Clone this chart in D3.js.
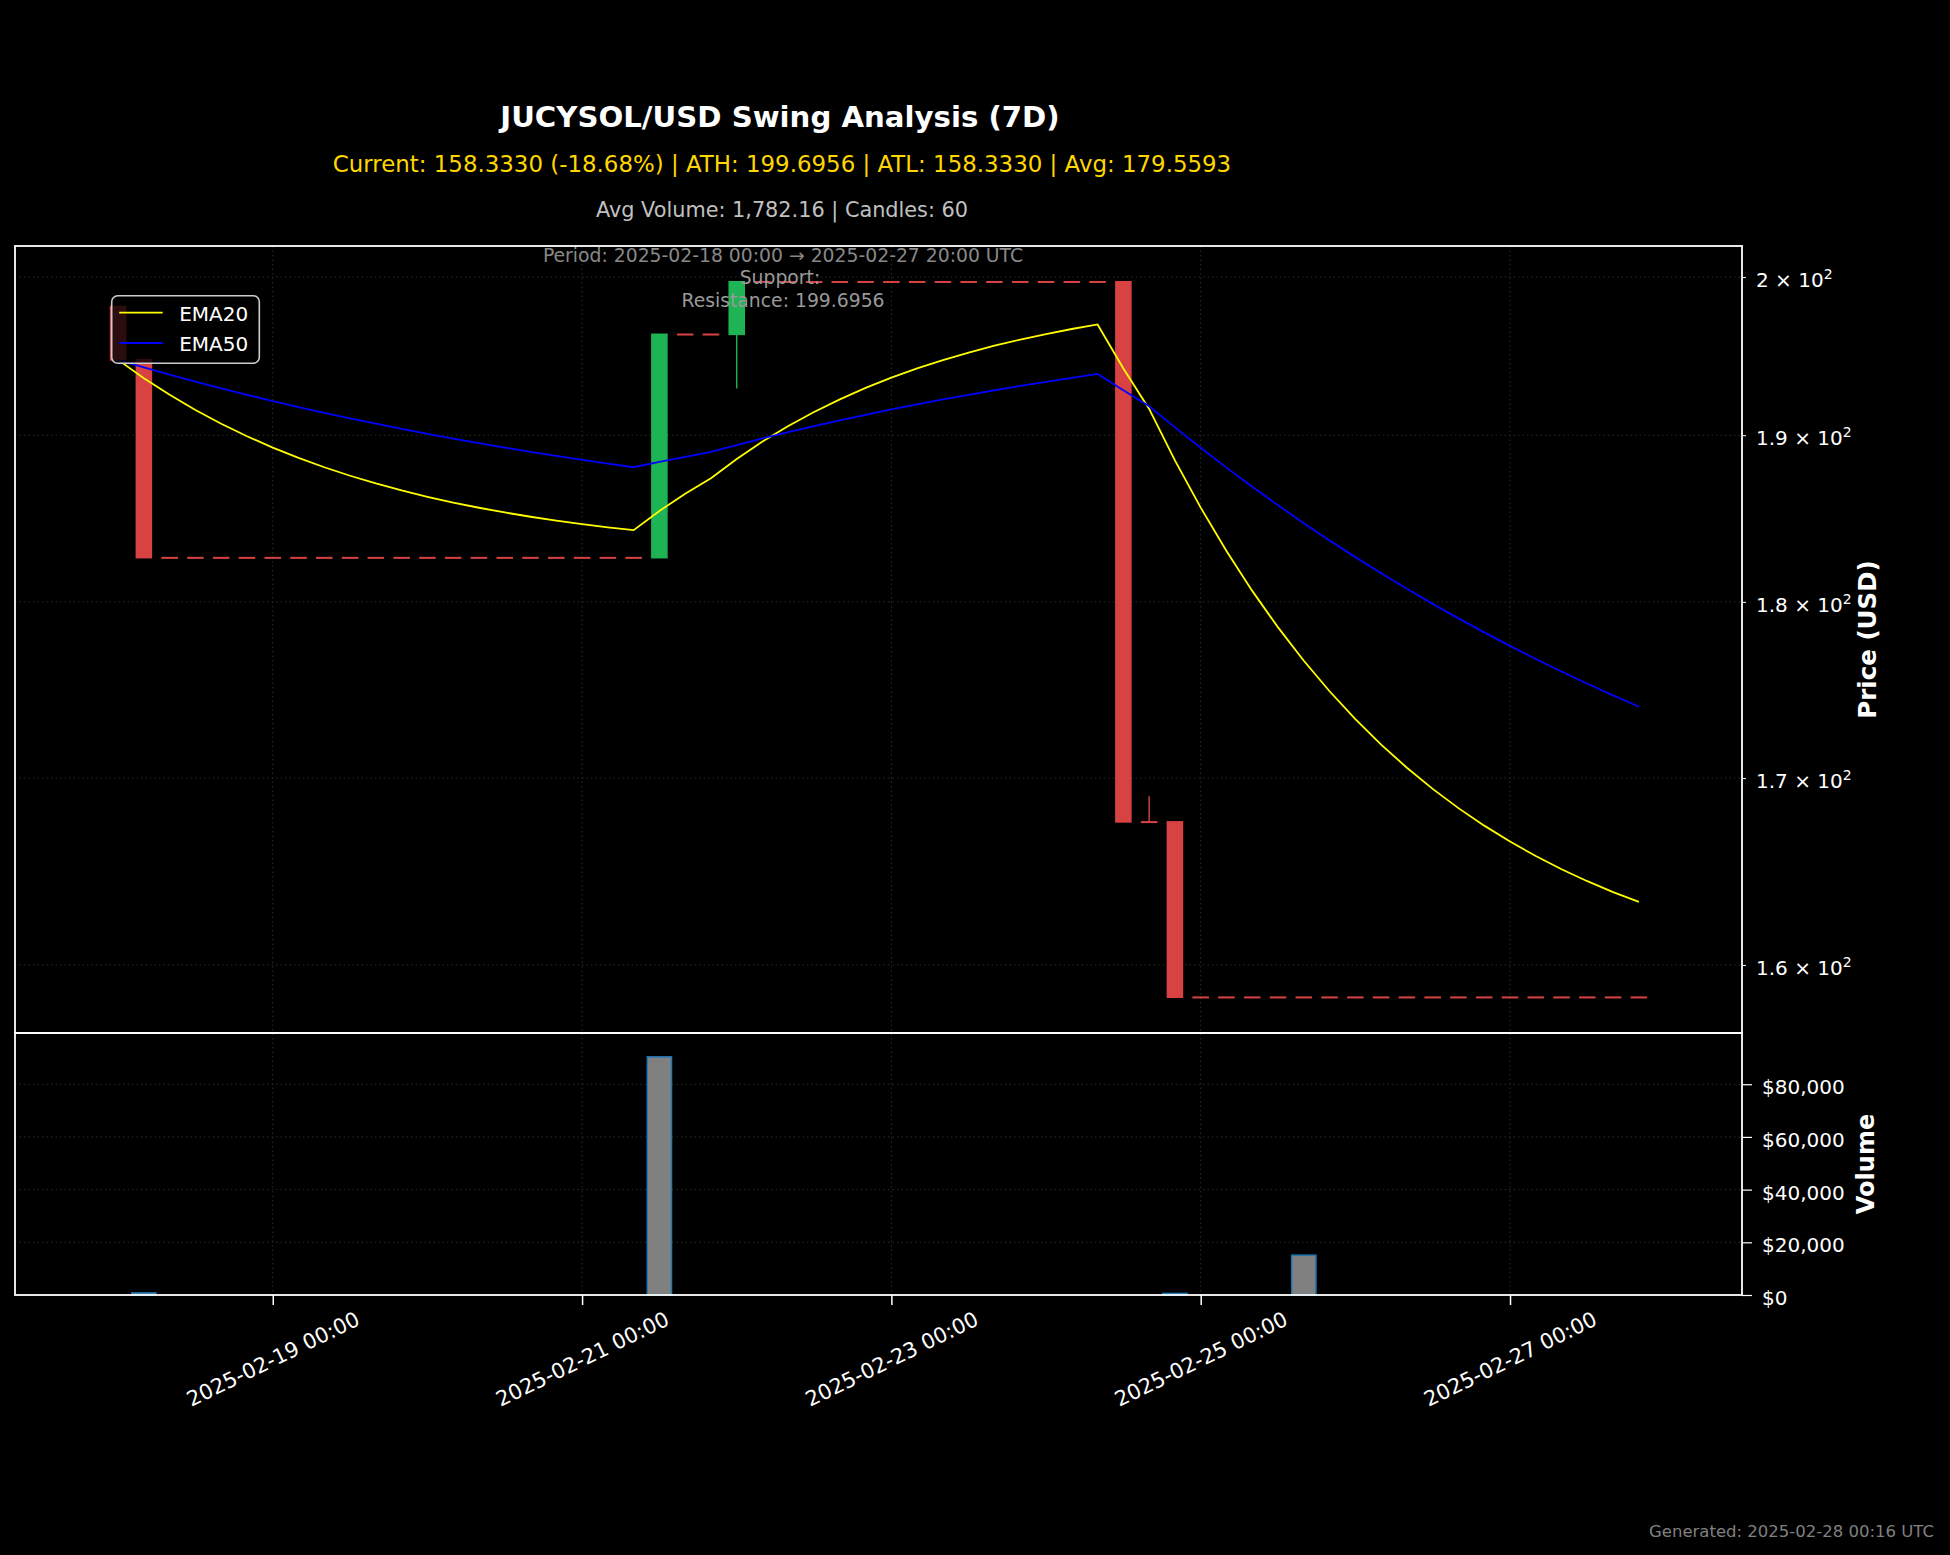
<!DOCTYPE html>
<html>
<head>
<meta charset="utf-8">
<script src="https://cdn.jsdelivr.net/npm/d3@7"></script>
<style>
  body { margin: 0; background: #000; }
  svg { display: block; }
  text { font-family: "DejaVu Sans", sans-serif; }
</style>
</head>
<body>
<div id="chart"></div>
<script>
// ---- data (4h candles) ----
const startTime = Date.UTC(2025, 1, 18, 0, 0);
const stepHours = 4;

const opens = [
  198.10, 194.70, 182.60, 182.60, 182.60, 182.60, 182.60, 182.60, 182.60, 182.60,
  182.60, 182.60, 182.60, 182.60, 182.60, 182.60, 182.60, 182.60, 182.60, 182.60,
  182.60, 182.60, 196.32, 196.32, 196.32, 199.6956, 199.6956, 199.6956, 199.6956, 199.6956,
  199.6956, 199.6956, 199.6956, 199.6956, 199.6956, 199.6956, 199.6956, 199.6956, 199.6956, 199.6956,
  167.60, 167.60, 158.333, 158.333, 158.333, 158.333, 158.333, 158.333, 158.333, 158.333,
  158.333, 158.333, 158.333, 158.333, 158.333, 158.333, 158.333, 158.333, 158.333, 158.333
];
const highs = [
  198.10, 194.70, 182.60, 182.60, 182.60, 182.60, 182.60, 182.60, 182.60, 182.60,
  182.60, 182.60, 182.60, 182.60, 182.60, 182.60, 182.60, 182.60, 182.60, 182.60,
  182.60, 196.32, 196.32, 196.32, 199.6956, 199.6956, 199.6956, 199.6956, 199.6956, 199.6956,
  199.6956, 199.6956, 199.6956, 199.6956, 199.6956, 199.6956, 199.6956, 199.6956, 199.6956, 199.6956,
  169.00, 167.60, 158.333, 158.333, 158.333, 158.333, 158.333, 158.333, 158.333, 158.333,
  158.333, 158.333, 158.333, 158.333, 158.333, 158.333, 158.333, 158.333, 158.333, 158.333
];
const lows = [
  194.70, 182.60, 182.60, 182.60, 182.60, 182.60, 182.60, 182.60, 182.60, 182.60,
  182.60, 182.60, 182.60, 182.60, 182.60, 182.60, 182.60, 182.60, 182.60, 182.60,
  182.60, 182.60, 196.32, 196.32, 192.90, 199.6956, 199.6956, 199.6956, 199.6956, 199.6956,
  199.6956, 199.6956, 199.6956, 199.6956, 199.6956, 199.6956, 199.6956, 199.6956, 199.6956, 167.60,
  167.60, 158.333, 158.333, 158.333, 158.333, 158.333, 158.333, 158.333, 158.333, 158.333,
  158.333, 158.333, 158.333, 158.333, 158.333, 158.333, 158.333, 158.333, 158.333, 158.333
];
const closes = [
  194.70, 182.60, 182.60, 182.60, 182.60, 182.60, 182.60, 182.60, 182.60, 182.60,
  182.60, 182.60, 182.60, 182.60, 182.60, 182.60, 182.60, 182.60, 182.60, 182.60,
  182.60, 196.32, 196.32, 196.32, 199.6956, 199.6956, 199.6956, 199.6956, 199.6956, 199.6956,
  199.6956, 199.6956, 199.6956, 199.6956, 199.6956, 199.6956, 199.6956, 199.6956, 199.6956, 167.60,
  167.60, 158.333, 158.333, 158.333, 158.333, 158.333, 158.333, 158.333, 158.333, 158.333,
  158.333, 158.333, 158.333, 158.333, 158.333, 158.333, 158.333, 158.333, 158.333, 158.333
];
const volumes = [
  0, 800, 0, 0, 0, 0, 0, 0, 0, 0,
  0, 0, 0, 0, 0, 0, 0, 0, 0, 0,
  0, 90400, 0, 0, 0, 0, 0, 0, 0, 0,
  0, 0, 0, 0, 0, 0, 0, 0, 0, 0,
  0, 610, 0, 0, 0, 0, 15120, 0, 0, 0,
  0, 0, 0, 0, 0, 0, 0, 0, 0, 0
];

const priceTicks = [160, 170, 180, 190, 200];
const priceTickMantissa = ["1.6", "1.7", "1.8", "1.9", "2"];
const volumeTicks = [0, 20000, 40000, 60000, 80000];
const xTickDates = ["2025-02-19", "2025-02-21", "2025-02-23", "2025-02-25", "2025-02-27"];

const titleText = "JUCYSOL/USD Swing Analysis (7D)";
const subtitleText = "Current: 158.3330 (-18.68%) | ATH: 199.6956 | ATL: 158.3330 | Avg: 179.5593";
const volInfoText = "Avg Volume: 1,782.16 | Candles: 60";
const periodText = "Period: 2025-02-18 00:00 \u2192 2025-02-27 20:00 UTC";
const supportText = "Support:";
const resistanceText = "Resistance: 199.6956";
const generatedText = "Generated: 2025-02-28 00:16 UTC";

// ---- layout ----
const width = 1950, height = 1555;
const price_box = {left: 15, right: 1742, top: 246, bottom: 1033};
const vol_box = {left: 15, right: 1742, top: 1033, bottom: 1295};
const red = "#d84242", green = "#1eb455";

function ema(values, span) {
  const a = 2 / (span + 1);
  let out = [];
  values.forEach(function(v, i) {
    out.push(i == 0 ? v : a * v + (1 - a) * out[i - 1]);
  });
  return out;
}

const times = closes.map(function(d, i) { return new Date(startTime + i * stepHours * 3600e3); });
const candles = times.map(function(t, i) {
  return {t: t, o: opens[i], h: highs[i], l: lows[i], c: closes[i], v: volumes[i]};
});
const ema20 = ema(closes, 20);
const ema50 = ema(closes, 50);

const svg = d3.select("#chart").append("svg")
  .attr("width", width).attr("height", height)
  .style("background", "#000");

// x scale: 16h of padding on each side
const pad = 16 * 3600e3;
const xScale = d3.scaleUtc()
  .domain([new Date(+times[0] - pad), new Date(+times[times.length - 1] + pad)])
  .range([price_box.left, price_box.right]);

const lo = d3.min(lows), hi = d3.max(highs);
const lmargin = Math.log(hi / lo) * 0.05;
const yScale = d3.scaleLog()
  .domain([lo * Math.exp(-lmargin), hi * Math.exp(lmargin)])
  .range([price_box.bottom, price_box.top]);

const vScale = d3.scaleLinear()
  .domain([0, d3.max(volumes) * 1.1])
  .range([vol_box.bottom, vol_box.top]);

const stepPx = xScale(new Date(startTime + stepHours * 3600e3)) - xScale(new Date(startTime));
const bodyW = stepPx * 0.58;
const volW = stepPx * 0.94;
const tickDates = xTickDates.map(function(s) { return new Date(s + "T00:00:00Z"); });

// ---- gridlines ----
const grid = svg.append("g").attr("stroke", "#2e2e1c").attr("stroke-width", 1).attr("stroke-dasharray", "1.5,3");
tickDates.forEach(function(d) {
  grid.append("line").attr("x1", xScale(d)).attr("x2", xScale(d))
    .attr("y1", price_box.top).attr("y2", vol_box.bottom);
});
priceTicks.forEach(function(p) {
  grid.append("line").attr("x1", price_box.left).attr("x2", price_box.right)
    .attr("y1", yScale(p)).attr("y2", yScale(p));
});
volumeTicks.slice(1).forEach(function(v) {
  grid.append("line").attr("x1", vol_box.left).attr("x2", vol_box.right)
    .attr("y1", vScale(v)).attr("y2", vScale(v));
});

// ---- candles ----
const cg = svg.append("g");
cg.selectAll("line.wick").data(candles).enter().append("line")
  .attr("class", "wick")
  .attr("x1", function(d) { return xScale(d.t); })
  .attr("x2", function(d) { return xScale(d.t); })
  .attr("y1", function(d) { return yScale(d.h); })
  .attr("y2", function(d) { return yScale(d.l); })
  .attr("stroke", function(d) { return d.c > d.o ? green : red; })
  .attr("stroke-width", 1.4);

// flat candles (open == close) still get a thin body line
cg.selectAll("rect.body").data(candles).enter().append("rect")
  .attr("class", "body")
  .attr("x", function(d) { return xScale(d.t) - bodyW / 2; })
  .attr("width", bodyW)
  .attr("y", function(d) { return yScale(Math.max(d.o, d.c)); })
  .attr("height", function(d) { return Math.max(0.4, Math.abs(yScale(d.o) - yScale(d.c))); })
  .attr("fill", function(d) { return d.c > d.o ? green : red; })
  .attr("stroke", function(d) { return d.c > d.o ? green : red; })
  .attr("stroke-width", 1.6);

// ---- EMA lines ----
const line = d3.line()
  .x(function(d, i) { return xScale(times[i]); })
  .y(function(d) { return yScale(d); });

svg.append("path").datum(ema20).attr("d", line)
  .attr("fill", "none").attr("stroke", "#ffff00").attr("stroke-width", 1.8);
svg.append("path").datum(ema50).attr("d", line)
  .attr("fill", "none").attr("stroke", "#0000ff").attr("stroke-width", 1.8);

// ---- volume bars ----
svg.append("g").selectAll("rect").data(candles).enter().append("rect")
  .attr("x", function(d) { return xScale(d.t) - volW / 2; })
  .attr("width", volW)
  .attr("y", function(d) { return vScale(d.v); })
  .attr("height", function(d) { return vol_box.bottom - vScale(d.v); })
  .attr("fill", "#808080")
  .attr("stroke", function(d) { return d.v > 0 ? "#1f77b4" : "none"; })
  .attr("stroke-width", 1.5);

// ---- legend ----
const lg = svg.append("g").attr("transform", "translate(111.7,295.7)");
lg.append("rect").attr("width", 147.6).attr("height", 67.6).attr("rx", 6).attr("ry", 6)
  .attr("fill", "rgba(0,0,0,0.8)").attr("stroke", "#cccccc").attr("stroke-width", 1.6);
[["EMA20", "#ffff00"], ["EMA50", "#0000ff"]].forEach(function(e, i) {
  lg.append("line").attr("x1", 7.5).attr("x2", 51).attr("y1", 17 + i * 30.3).attr("y2", 17 + i * 30.3)
    .attr("stroke", e[1]).attr("stroke-width", 1.8);
  lg.append("text").attr("x", 67.5).attr("y", 25 + i * 30.3)
    .attr("fill", "#fff").style("font-size", "20px").text(e[0]);
});

// ---- spines ----
[price_box, vol_box].forEach(function(b) {
  svg.append("rect").attr("x", b.left).attr("y", b.top)
    .attr("width", b.right - b.left).attr("height", b.bottom - b.top)
    .attr("fill", "none").attr("stroke", "#fff").attr("stroke-width", 1.8);
});

// ---- axes ----
const yAxis = svg.append("g").attr("transform", "translate(" + price_box.right + ",0)")
  .call(d3.axisRight(yScale).tickValues(priceTicks).tickSize(4).tickPadding(10).tickFormat(""));
yAxis.select(".domain").remove();
yAxis.selectAll("line").attr("stroke", "#fff").attr("stroke-width", 1);
yAxis.selectAll("text").each(function(d, i) {
  const t = d3.select(this).attr("fill", "#fff").attr("dy", null).attr("y", 9.5)
    .style("font-size", "20px").style("font-family", "'DejaVu Sans'");
  t.append("tspan").text(priceTickMantissa[i] + " \u00d7 10");
  t.append("tspan").attr("dy", -8).style("font-size", "14px").text("2");
});

const vAxis = svg.append("g").attr("transform", "translate(" + vol_box.right + ",0)")
  .call(d3.axisRight(vScale).tickValues(volumeTicks).tickSize(10).tickPadding(10).tickFormat(d3.format("$,")));
vAxis.select(".domain").remove();
vAxis.selectAll("line").attr("stroke", "#fff").attr("stroke-width", 1.2);
vAxis.selectAll("text").attr("fill", "#fff").attr("dy", null).attr("y", 9.5)
  .style("font-size", "20px").style("font-family", "'DejaVu Sans'");

const xAxis = svg.append("g").attr("transform", "translate(0," + vol_box.bottom + ")")
  .call(d3.axisBottom(xScale).tickValues(tickDates).tickSize(10).tickFormat(d3.utcFormat("%Y-%m-%d %H:%M")));
xAxis.select(".domain").remove();
xAxis.selectAll("line").attr("stroke", "#fff").attr("stroke-width", 1.5);
const rot = 26, sinR = Math.sin(rot * Math.PI / 180), cosR = Math.cos(rot * Math.PI / 180);
xAxis.selectAll("text")
  .attr("fill", "#fff").attr("dy", null).attr("y", 0)
  .style("font-size", "21px").style("font-family", "'DejaVu Sans'")
  .style("text-anchor", "middle")
  .each(function() {
    const b = this.getBBox();
    const cy = b.y + b.height / 2;
    const rotH = b.width * sinR + b.height * cosR;
    d3.select(this).attr("y", -cy)
      .attr("transform", "translate(0," + (12 + rotH / 2) + ") rotate(" + (-rot) + ")");
  });

// axis labels
svg.append("text").attr("transform", "translate(1876," + ((price_box.top + price_box.bottom) / 2) + ") rotate(-90)")
  .style("text-anchor", "middle").style("font-weight", "bold").style("font-size", "24.5px")
  .attr("fill", "#fff").text("Price (USD)");
svg.append("text").attr("transform", "translate(1874," + ((vol_box.top + vol_box.bottom) / 2) + ") rotate(-90)")
  .style("text-anchor", "middle").style("font-weight", "bold").style("font-size", "24px")
  .attr("fill", "#fff").text("Volume");

// ---- titles and notes ----
svg.append("text").attr("x", 780).attr("y", 127).style("text-anchor", "middle")
  .style("font-weight", "bold").style("font-size", "29.2px").attr("fill", "#fff").text(titleText);
svg.append("text").attr("x", 782).attr("y", 171.5).style("text-anchor", "middle")
  .style("font-size", "22.9px").attr("fill", "#ffd700").text(subtitleText);
svg.append("text").attr("x", 782).attr("y", 216.5).style("text-anchor", "middle")
  .style("font-size", "20.8px").attr("fill", "#c0c0c0").text(volInfoText);
svg.append("text").attr("x", 783).attr("y", 261.5).style("text-anchor", "middle")
  .style("font-size", "18.8px").attr("fill", "#888888").text(periodText);
svg.append("text").attr("x", 780).attr("y", 284).style("text-anchor", "middle")
  .style("font-size", "18.8px").attr("fill", "#999999").text(supportText);
svg.append("text").attr("x", 783).attr("y", 306.5).style("text-anchor", "middle")
  .style("font-size", "18.8px").attr("fill", "#999999").text(resistanceText);

svg.append("text").attr("x", 1934).attr("y", 1537).style("text-anchor", "end")
  .style("font-size", "16.5px").attr("fill", "#808080").text(generatedText);
</script>
</body>
</html>
